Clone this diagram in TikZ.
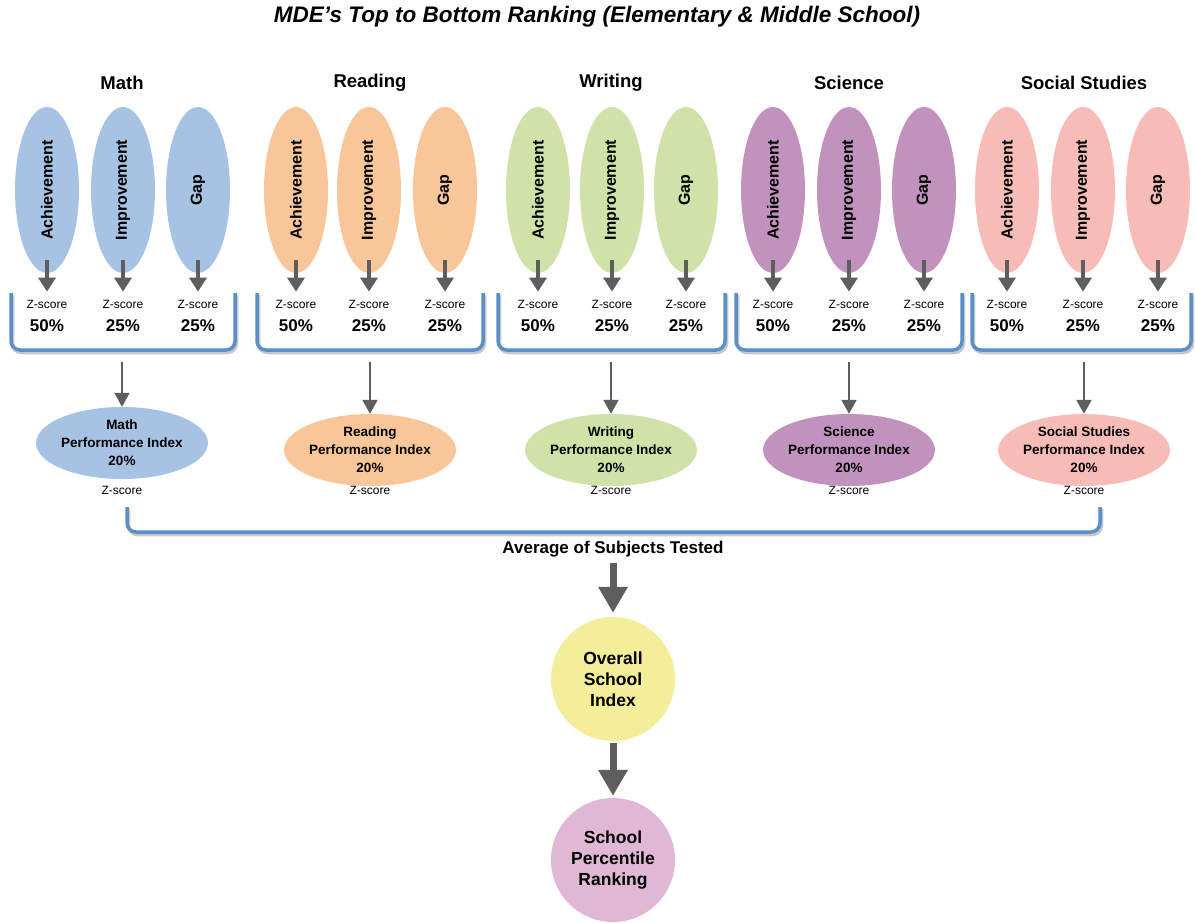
\documentclass[tikz,border=0pt]{standalone}
\usepackage{fontspec}
\setmainfont{Liberation Sans}
\usetikzlibrary{shapes.geometric,arrows.meta,calc}
\definecolor{mathc}{HTML}{A6C3E3}
\definecolor{readc}{HTML}{F9C699}
\definecolor{writc}{HTML}{CFE3A8}
\definecolor{scic}{HTML}{C292BF}
\definecolor{socc}{HTML}{F7BCB7}
\definecolor{ovc}{HTML}{F4EE9A}
\definecolor{prc}{HTML}{E0B7D4}
\definecolor{brc}{HTML}{5A8FC8}
\definecolor{arrc}{HTML}{5E5E5E}
\begin{document}
\begin{tikzpicture}[x=1pt,y=-1pt,
  sub/.style={ellipse, draw=none, rotate=90, minimum width=166pt, minimum height=64pt, inner sep=0pt, font=\fontsize{16}{18}\selectfont\bfseries},
  zs/.style={font=\fontsize{12}{13}\selectfont, inner sep=0pt},
  pct/.style={font=\fontsize{17}{19}\selectfont\bfseries, inner sep=0pt},
  hdr/.style={font=\fontsize{18.5}{20}\selectfont\bfseries},
  pinode/.style={ellipse, minimum width=163pt, minimum height=72pt, inner sep=0pt, align=center, font=\fontsize{13.5}{18}\selectfont\bfseries},
  bignode/.style={circle, minimum size=124pt, inner sep=0pt, align=center, font=\fontsize{17.5}{21}\selectfont\bfseries},
  sarrow/.style={draw=arrc, line width=4.5pt, -{Triangle[width=17pt,length=14pt]}},
  marrow/.style={draw=arrc, line width=2pt, -{Triangle[width=15pt,length=14pt]}},
  barrow/.style={draw=arrc, line width=7pt, -{Triangle[width=28pt,length=26pt]}},
  bracket/.style={draw=brc, line width=3.5pt, rounded corners=9pt},
  bshadow/.style={draw=black!40, opacity=0.55, line width=3.5pt, rounded corners=9pt}
]
\fill[white] (0,0) rectangle (1195,922);
\useasboundingbox (0,0) rectangle (1195,922);

\node[font=\fontsize{22.5}{24}\selectfont\bfseries\itshape] (title) at (597,17) {MDE’s Top to Bottom Ranking (Elementary \& Middle School)};

\foreach \i/\xa/\xi/\xg/\bl/\br/\xc/\piy/\col/\subj in {
  1/47/123/198/11/235/122/443/mathc/Math,
  2/296/369/445/257/483/370/450/readc/Reading,
  3/538/612/686/498/725/611/450/writc/Writing,
  4/773/849/924/736/962/849/450/scic/Science,
  5/1007/1083/1158/972/1191/1084/450/socc/Social Studies}{
  \node[hdr] (h\i) at (\xc,83) {\subj};
  \node[sub, fill=\col] (a\i) at (\xa,190) {Achievement};
  \node[sub, fill=\col] (m\i) at (\xi,190) {Improvement};
  \node[sub, fill=\col] (g\i) at (\xg,190) {Gap};
  \node[zs] (za\i) at (\xa,304) {Z-score};
  \node[zs] (zm\i) at (\xi,304) {Z-score};
  \node[zs] (zg\i) at (\xg,304) {Z-score};
  \node[pct] (pa\i) at (\xa,326) {50\%};
  \node[pct] (pm\i) at (\xi,326) {25\%};
  \node[pct] (pg\i) at (\xg,326) {25\%};
  \draw[sarrow, shorten >=8pt] ([yshift=-70pt]a\i.center) -- (za\i.north);
  \draw[sarrow, shorten >=8pt] ([yshift=-70pt]m\i.center) -- (zm\i.north);
  \draw[sarrow, shorten >=8pt] ([yshift=-70pt]g\i.center) -- (zg\i.north);
  \draw[bshadow] (\bl+1.5,294.5) -- (\bl+1.5,352.5) -- (\br+1.5,352.5) -- (\br+1.5,294.5);
  \draw[bracket] (\bl,293) -- (\bl,350) -- (\br,350) -- (\br,293);
  \coordinate (b\i) at (\xc,362);
  \node[pinode, fill=\col] (p\i) at (\xc,\piy) {\subj\\Performance Index\\20\%};
  \draw[marrow] (b\i) -- (p\i.north);
  \node[zs] (pz\i) at (\xc,490) {Z-score};
}

\draw[bshadow] (128.5,509) -- (128.5,534.5) -- (1101.5,534.5) -- (1101.5,509);
\draw[bracket] (127,507) -- (127,532) -- (1100,532) -- (1100,507);

\node[font=\fontsize{17}{19}\selectfont\bfseries] (avg) at (613,549) {Average of Subjects Tested};
\node[bignode, fill=ovc] (ov) at (613,679) {Overall\\School\\Index};
\node[bignode, fill=prc] (pr) at (613,860) {School\\Percentile\\Ranking};
\draw[barrow, shorten <=2pt, shorten >=4pt] (avg.south) -- (ov.north);
\draw[barrow, shorten <=2pt, shorten >=2pt] (ov.south) -- (pr.north);
\end{tikzpicture}
\end{document}
